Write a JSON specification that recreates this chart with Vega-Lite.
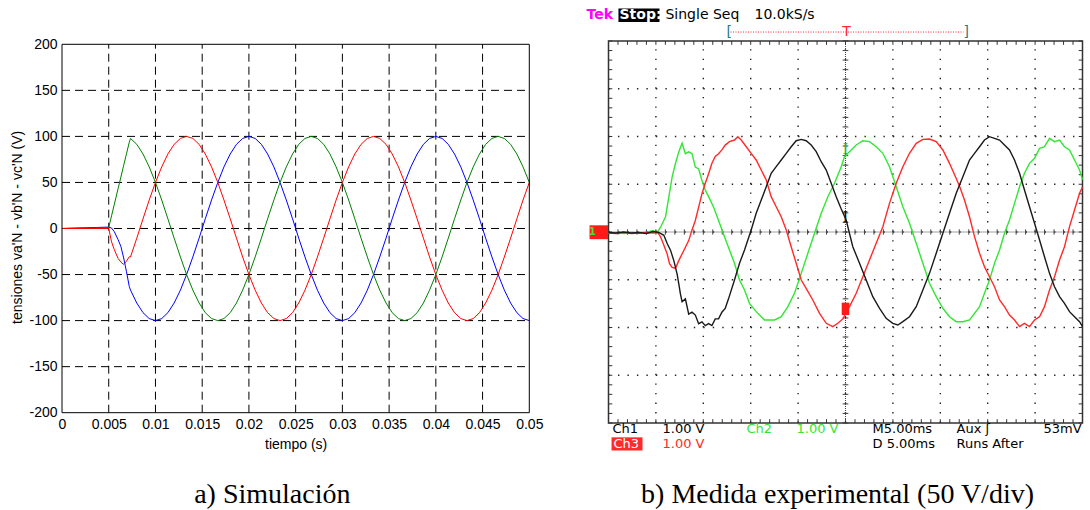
{
  "$schema": "https://vega.github.io/schema/vega-lite/v6.json",
  "padding": {"left": 10, "top": 8, "right": 0, "bottom": 0},
  "spacing": 43.5,
  "background": "white",
  "config": {"view": {"stroke": null}},
  "datasets": {
    "simGridT": [{"t":0.005},{"t":0.01},{"t":0.015},{"t":0.02},{"t":0.025},{"t":0.03},{"t":0.035},{"t":0.04},{"t":0.045}],
    "simGridV": [{"v":-150},{"v":-100},{"v":-50},{"v":0},{"v":50},{"v":100},{"v":150}],
    "minorT": [{"t":0},{"t":0.001},{"t":0.002},{"t":0.003},{"t":0.004},{"t":0.005},{"t":0.006},{"t":0.007},{"t":0.008},{"t":0.009},{"t":0.01},{"t":0.011},{"t":0.012},{"t":0.013},{"t":0.014},{"t":0.015},{"t":0.016},{"t":0.017},{"t":0.018},{"t":0.019},{"t":0.02},{"t":0.021},{"t":0.022},{"t":0.023},{"t":0.024},{"t":0.025},{"t":0.026},{"t":0.027},{"t":0.028},{"t":0.029},{"t":0.03},{"t":0.031},{"t":0.032},{"t":0.033},{"t":0.034},{"t":0.035},{"t":0.036},{"t":0.037},{"t":0.038},{"t":0.039},{"t":0.04},{"t":0.041},{"t":0.042},{"t":0.043},{"t":0.044},{"t":0.045},{"t":0.046},{"t":0.047},{"t":0.048},{"t":0.049},{"t":0.05}],
    "minorV": [{"v":-200},{"v":-190},{"v":-180},{"v":-170},{"v":-160},{"v":-150},{"v":-140},{"v":-130},{"v":-120},{"v":-110},{"v":-100},{"v":-90},{"v":-80},{"v":-70},{"v":-60},{"v":-50},{"v":-40},{"v":-30},{"v":-20},{"v":-10},{"v":0},{"v":10},{"v":20},{"v":30},{"v":40},{"v":50},{"v":60},{"v":70},{"v":80},{"v":90},{"v":100},{"v":110},{"v":120},{"v":130},{"v":140},{"v":150},{"v":160},{"v":170},{"v":180},{"v":190},{"v":200}],
    "sim": [
      {"t":0,"va":0,"vb":0,"vc":0},
      {"t":0.005,"va":1.5,"vb":1,"vc":0},
      {"t":0.0053,"va":0.5,"vb":13.7,"vc":-14.5},
      {"t":0.0056,"va":-3.5,"vb":26.3,"vc":-23},
      {"t":0.006,"va":-12,"vb":43.2,"vc":-32.5},
      {"t":0.0063,"va":-19.5,"vb":55.8,"vc":-36.5},
      {"t":0.0066,"va":-32,"vb":68.5,"vc":-39},
      {"t":0.0069,"va":-47,"vb":81.1,"vc":-35.5},
      {"t":0.0072,"va":-63,"vb":93.8,"vc":-30.6},
      {"t":0.00733,"va":-66.9,"vb":97.8,"vc":-30.9},
      {"t":0.008,"va":-80.9,"vb":91.4,"vc":-10.5},
      {"t":0.00867,"va":-91.4,"vb":80.9,"vc":10.5},
      {"t":0.00933,"va":-97.8,"vb":66.9,"vc":30.9},
      {"t":0.01,"va":-100,"vb":50,"vc":50},
      {"t":0.01067,"va":-97.8,"vb":30.9,"vc":66.9},
      {"t":0.01133,"va":-91.4,"vb":10.5,"vc":80.9},
      {"t":0.012,"va":-80.9,"vb":-10.5,"vc":91.4},
      {"t":0.01267,"va":-66.9,"vb":-30.9,"vc":97.8},
      {"t":0.01333,"va":-50,"vb":-50,"vc":100},
      {"t":0.014,"va":-30.9,"vb":-66.9,"vc":97.8},
      {"t":0.01467,"va":-10.5,"vb":-80.9,"vc":91.4},
      {"t":0.01533,"va":10.5,"vb":-91.4,"vc":80.9},
      {"t":0.016,"va":30.9,"vb":-97.8,"vc":66.9},
      {"t":0.01667,"va":50,"vb":-100,"vc":50},
      {"t":0.01733,"va":66.9,"vb":-97.8,"vc":30.9},
      {"t":0.018,"va":80.9,"vb":-91.4,"vc":10.5},
      {"t":0.01867,"va":91.4,"vb":-80.9,"vc":-10.5},
      {"t":0.01933,"va":97.8,"vb":-66.9,"vc":-30.9},
      {"t":0.02,"va":100,"vb":-50,"vc":-50},
      {"t":0.02067,"va":97.8,"vb":-30.9,"vc":-66.9},
      {"t":0.02133,"va":91.4,"vb":-10.5,"vc":-80.9},
      {"t":0.022,"va":80.9,"vb":10.5,"vc":-91.4},
      {"t":0.02267,"va":66.9,"vb":30.9,"vc":-97.8},
      {"t":0.02333,"va":50,"vb":50,"vc":-100},
      {"t":0.024,"va":30.9,"vb":66.9,"vc":-97.8},
      {"t":0.02467,"va":10.5,"vb":80.9,"vc":-91.4},
      {"t":0.02533,"va":-10.5,"vb":91.4,"vc":-80.9},
      {"t":0.026,"va":-30.9,"vb":97.8,"vc":-66.9},
      {"t":0.02667,"va":-50,"vb":100,"vc":-50},
      {"t":0.02733,"va":-66.9,"vb":97.8,"vc":-30.9},
      {"t":0.028,"va":-80.9,"vb":91.4,"vc":-10.5},
      {"t":0.02867,"va":-91.4,"vb":80.9,"vc":10.5},
      {"t":0.02933,"va":-97.8,"vb":66.9,"vc":30.9},
      {"t":0.03,"va":-100,"vb":50,"vc":50},
      {"t":0.03067,"va":-97.8,"vb":30.9,"vc":66.9},
      {"t":0.03133,"va":-91.4,"vb":10.5,"vc":80.9},
      {"t":0.032,"va":-80.9,"vb":-10.5,"vc":91.4},
      {"t":0.03267,"va":-66.9,"vb":-30.9,"vc":97.8},
      {"t":0.03333,"va":-50,"vb":-50,"vc":100},
      {"t":0.034,"va":-30.9,"vb":-66.9,"vc":97.8},
      {"t":0.03467,"va":-10.5,"vb":-80.9,"vc":91.4},
      {"t":0.03533,"va":10.5,"vb":-91.4,"vc":80.9},
      {"t":0.036,"va":30.9,"vb":-97.8,"vc":66.9},
      {"t":0.03667,"va":50,"vb":-100,"vc":50},
      {"t":0.03733,"va":66.9,"vb":-97.8,"vc":30.9},
      {"t":0.038,"va":80.9,"vb":-91.4,"vc":10.5},
      {"t":0.03867,"va":91.4,"vb":-80.9,"vc":-10.5},
      {"t":0.03933,"va":97.8,"vb":-66.9,"vc":-30.9},
      {"t":0.04,"va":100,"vb":-50,"vc":-50},
      {"t":0.04067,"va":97.8,"vb":-30.9,"vc":-66.9},
      {"t":0.04133,"va":91.4,"vb":-10.5,"vc":-80.9},
      {"t":0.042,"va":80.9,"vb":10.5,"vc":-91.4},
      {"t":0.04267,"va":66.9,"vb":30.9,"vc":-97.8},
      {"t":0.04333,"va":50,"vb":50,"vc":-100},
      {"t":0.044,"va":30.9,"vb":66.9,"vc":-97.8},
      {"t":0.04467,"va":10.5,"vb":80.9,"vc":-91.4},
      {"t":0.04533,"va":-10.5,"vb":91.4,"vc":-80.9},
      {"t":0.046,"va":-30.9,"vb":97.8,"vc":-66.9},
      {"t":0.04667,"va":-50,"vb":100,"vc":-50},
      {"t":0.04733,"va":-66.9,"vb":97.8,"vc":-30.9},
      {"t":0.048,"va":-80.9,"vb":91.4,"vc":-10.5},
      {"t":0.04867,"va":-91.4,"vb":80.9,"vc":10.5},
      {"t":0.04933,"va":-97.8,"vb":66.9,"vc":30.9},
      {"t":0.05,"va":-100,"vb":50,"vc":50}
    ],
    "ch1": [
      {"t":0,"v":-0.5},{"t":0.0008,"v":-1},{"t":0.0016,"v":0},{"t":0.0024,"v":-1},{"t":0.0032,"v":-0.5},{"t":0.004,"v":-1.5},{"t":0.0047,"v":0.5},{"t":0.0053,"v":-0.5},
      {"t":0.00584,"v":-3.5},{"t":0.00619,"v":-12},{"t":0.00654,"v":-19},{"t":0.00689,"v":-30},{"t":0.00724,"v":-44},{"t":0.00741,"v":-54},{"t":0.00759,"v":-65},{"t":0.00776,"v":-73},{"t":0.00811,"v":-70},{"t":0.00846,"v":-86},{"t":0.00881,"v":-84},{"t":0.00916,"v":-87},{"t":0.00951,"v":-96},{"t":0.00986,"v":-94},{"t":0.01021,"v":-98},{"t":0.01056,"v":-96},{"t":0.01091,"v":-98},{"t":0.01126,"v":-91},{"t":0.01161,"v":-91},{"t":0.01196,"v":-84},{"t":0.01231,"v":-80},{"t":0.01266,"v":-70},
      {"t":0.01329,"v":-50.3},{"t":0.01382,"v":-32.8},{"t":0.01435,"v":-18.8},{"t":0.01505,"v":2.1},{"t":0.01558,"v":19.6},{"t":0.01611,"v":33.5},{"t":0.01664,"v":47.4},{"t":0.01716,"v":61.5},{"t":0.01769,"v":68.4},{"t":0.01822,"v":75.4},{"t":0.01875,"v":82.4},{"t":0.01927,"v":89.3},{"t":0.0198,"v":95.6},{"t":0.02033,"v":97},{"t":0.02085,"v":95.6},{"t":0.02138,"v":91.1},{"t":0.02191,"v":84.1},{"t":0.02244,"v":73.6},{"t":0.02297,"v":64.9},{"t":0.02349,"v":51},{"t":0.02402,"v":37},{"t":0.02455,"v":24},{"t":0.02507,"v":12.6},
      {"t":0.02577,"v":-15.4},{"t":0.02648,"v":-32.8},{"t":0.02718,"v":-50.3},{"t":0.02788,"v":-67.7},{"t":0.02859,"v":-79.9},{"t":0.02929,"v":-90.4},{"t":0.02999,"v":-95.6},{"t":0.03052,"v":-97.4},{"t":0.03105,"v":-93.9},{"t":0.03175,"v":-88.7},{"t":0.03246,"v":-78.2},{"t":0.03316,"v":-60.7},{"t":0.03386,"v":-43.3},{"t":0.03457,"v":-22.3},{"t":0.03527,"v":-1.4},{"t":0.03597,"v":19.6},{"t":0.03668,"v":40.5},{"t":0.03738,"v":57.9},{"t":0.03808,"v":75.4},{"t":0.03861,"v":82.4},{"t":0.03914,"v":89.3},{"t":0.03966,"v":96.3},{"t":0.04019,"v":99.8},{"t":0.04072,"v":98.1},{"t":0.04125,"v":96.3},{"t":0.04177,"v":91.1},{"t":0.0423,"v":85.9},{"t":0.04283,"v":75.4},{"t":0.04336,"v":61.5},{"t":0.04388,"v":44},{"t":0.04441,"v":26.5},{"t":0.04494,"v":9.1},{"t":0.04547,"v":-8.4},{"t":0.04599,"v":-25.9},{"t":0.04652,"v":-43.3},{"t":0.04705,"v":-57.3},{"t":0.04758,"v":-67.7},{"t":0.0481,"v":-74.7},{"t":0.04863,"v":-83.4},{"t":0.04916,"v":-88.7},{"t":0.04969,"v":-93.9},{"t":0.05,"v":-99}
    ],
    "ch2": [
      {"t":0,"v":-1},{"t":0.0008,"v":-0.5},{"t":0.0016,"v":-1.5},{"t":0.0024,"v":-0.5},{"t":0.0032,"v":-1},{"t":0.004,"v":-0.5},{"t":0.0047,"v":1.5},{"t":0.0051,"v":-1},
      {"t":0.00549,"v":5},{"t":0.00602,"v":16},{"t":0.00637,"v":37},{"t":0.00672,"v":58},{"t":0.00707,"v":72},{"t":0.00742,"v":84},{"t":0.00776,"v":93},{"t":0.00811,"v":82},{"t":0.00846,"v":84},{"t":0.00881,"v":82},{"t":0.00916,"v":68},{"t":0.00951,"v":66},{"t":0.00986,"v":54},{"t":0.01021,"v":44},{"t":0.01056,"v":37},{"t":0.01109,"v":26},{"t":0.01161,"v":12},{"t":0.01213,"v":-2},
      {"t":0.01276,"v":-18.8},{"t":0.01329,"v":-32.8},{"t":0.01382,"v":-50.3},{"t":0.01435,"v":-60.7},{"t":0.01487,"v":-74.7},{"t":0.01558,"v":-83.4},{"t":0.01646,"v":-92.1},{"t":0.01751,"v":-92.1},{"t":0.01822,"v":-88.6},{"t":0.01892,"v":-78.2},{"t":0.01962,"v":-64.2},{"t":0.02033,"v":-43.3},{"t":0.02103,"v":-22.3},{"t":0.02173,"v":-1.4},{"t":0.02244,"v":19.6},{"t":0.02314,"v":37},{"t":0.02384,"v":51},{"t":0.02455,"v":68.4},{"t":0.0249,"v":78.9},
      {"t":0.02542,"v":84.1},{"t":0.02613,"v":91.1},{"t":0.02683,"v":95.6},{"t":0.02753,"v":94.6},{"t":0.02824,"v":89.3},{"t":0.02894,"v":82.4},{"t":0.02964,"v":68.4},{"t":0.03035,"v":47.4},{"t":0.03105,"v":26.5},{"t":0.03175,"v":9.1},{"t":0.03246,"v":-11.8},{"t":0.03316,"v":-32.8},{"t":0.03386,"v":-53.7},{"t":0.03457,"v":-67.7},{"t":0.03527,"v":-79.9},{"t":0.03597,"v":-88.7},{"t":0.03668,"v":-93.9},{"t":0.03738,"v":-93.9},{"t":0.03808,"v":-92.1},
      {"t":0.03861,"v":-85.2},{"t":0.03914,"v":-78.2},{"t":0.03966,"v":-64.2},{"t":0.04019,"v":-50.3},{"t":0.04072,"v":-32.8},{"t":0.04125,"v":-18.8},{"t":0.04177,"v":-1.4},{"t":0.0423,"v":12.6},{"t":0.04283,"v":30},{"t":0.04336,"v":47.4},{"t":0.04388,"v":61.5},{"t":0.04441,"v":71.9},{"t":0.04494,"v":77.2},{"t":0.04547,"v":87.6},{"t":0.04599,"v":89.3},{"t":0.04652,"v":98.1},{"t":0.04705,"v":94.6},{"t":0.04758,"v":96.3},{"t":0.0481,"v":89.3},{"t":0.04863,"v":85.9},{"t":0.04916,"v":75.4},{"t":0.04969,"v":64.9},{"t":0.05,"v":55}
    ],
    "ch3": [
      {"t":0,"v":-1},{"t":0.0008,"v":-1.5},{"t":0.0016,"v":-0.5},{"t":0.0024,"v":-1.5},{"t":0.0032,"v":-1},{"t":0.004,"v":-0.5},{"t":0.0047,"v":-1},{"t":0.0052,"v":-0.5},
      {"t":0.00549,"v":-5},{"t":0.00584,"v":-14},{"t":0.00619,"v":-23},{"t":0.00643,"v":-33},{"t":0.00671,"v":-37},{"t":0.00706,"v":-38},{"t":0.00741,"v":-30},{"t":0.00776,"v":-23},{"t":0.00811,"v":-16},{"t":0.00846,"v":-9},{"t":0.00881,"v":2},{"t":0.00916,"v":12},{"t":0.00951,"v":26},{"t":0.00986,"v":40},{"t":0.01021,"v":51},{"t":0.01056,"v":61},{"t":0.01091,"v":72},{"t":0.01126,"v":79},{"t":0.01161,"v":82},{"t":0.01196,"v":86},{"t":0.01231,"v":91},
      {"t":0.01276,"v":94.6},{"t":0.01329,"v":96.3},{"t":0.01364,"v":99.8},{"t":0.014,"v":96.3},{"t":0.01453,"v":89.3},{"t":0.01505,"v":82.4},{"t":0.01558,"v":75.4},{"t":0.01611,"v":64.9},{"t":0.01664,"v":54.4},{"t":0.01716,"v":37},{"t":0.01769,"v":26.5},{"t":0.01822,"v":16},{"t":0.01875,"v":2.1},{"t":0.01927,"v":-15.4},{"t":0.0198,"v":-32.8},{"t":0.02033,"v":-50.3},{"t":0.02085,"v":-59},{"t":0.02155,"v":-71.2},{"t":0.02226,"v":-85.2},{"t":0.02297,"v":-95.6},{"t":0.02366,"v":-99.1},{"t":0.02419,"v":-95.6},{"t":0.02472,"v":-91},
      {"t":0.02542,"v":-78.2},{"t":0.02613,"v":-64.2},{"t":0.02683,"v":-46.8},{"t":0.02753,"v":-29.3},{"t":0.02824,"v":-11.8},{"t":0.02894,"v":5.6},{"t":0.02964,"v":30},{"t":0.03035,"v":51},{"t":0.03105,"v":68.4},{"t":0.03175,"v":82.4},{"t":0.03246,"v":92.9},{"t":0.03316,"v":97},{"t":0.03386,"v":97.4},{"t":0.03457,"v":94.6},{"t":0.03527,"v":85.9},{"t":0.03597,"v":71.9},{"t":0.03668,"v":56},{"t":0.03703,"v":48},{"t":0.03755,"v":33.5},{"t":0.03808,"v":16},
      {"t":0.03861,"v":-4.9},{"t":0.03914,"v":-22.3},{"t":0.03966,"v":-36.3},{"t":0.04019,"v":-46.8},{"t":0.04072,"v":-57.3},{"t":0.04125,"v":-71.2},{"t":0.04177,"v":-78.2},{"t":0.0423,"v":-86.9},{"t":0.04283,"v":-92.1},{"t":0.04336,"v":-99.1},{"t":0.04388,"v":-95.6},{"t":0.04441,"v":-99.1},{"t":0.04494,"v":-92.1},{"t":0.04547,"v":-88.7},{"t":0.04599,"v":-78.2},{"t":0.04652,"v":-60.7},{"t":0.04705,"v":-46.8},{"t":0.04758,"v":-29.3},{"t":0.0481,"v":-15.4},{"t":0.04863,"v":5.6},{"t":0.04916,"v":23},{"t":0.04969,"v":40.5},{"t":0.05,"v":47}
    ]
  },
  "hconcat": [
    {
      "width": 467.3,
      "height": 371.7,
      "data": {"values": [{}]},
      "layer": [
        {
          "data": {"name": "simGridT"},
          "mark": {"type": "rule", "color": "#000000", "strokeWidth": 1, "strokeDash": [8, 5]},
          "encoding": {
            "x": {
              "field": "t", "type": "quantitative",
              "scale": {"domain": [0, 0.05], "nice": false, "zero": false},
              "axis": {
                "disable": false,
                "orient": "bottom", "title": "tiempo (s)",
                "values": [0, 0.005, 0.01, 0.015, 0.02, 0.025, 0.03, 0.035, 0.04, 0.045, 0.05],
                "labelExpr": "toString(datum.value)",
                "domain": false, "ticks": false, "grid": false,
                "labelFont": "Liberation Sans", "labelFontSize": 14, "labelColor": "#000000", "labelPadding": 5,
                "labelFlush": false, "labelOverlap": false, "labelBound": false,
                "titleFont": "Liberation Sans", "titleFontSize": 14, "titleFontWeight": "normal", "titleColor": "#000000", "titlePadding": 6
              }
            },
            "y": {
              "datum": -200, "type": "quantitative",
              "scale": {"domain": [-200, 203.58], "nice": false, "zero": false},
              "axis": {
                "disable": false,
                "orient": "left", "title": "tensiones va'N - vb'N - vc'N (V)",
                "values": [-200, -150, -100, -50, 0, 50, 100, 150, 200],
                "labelExpr": "toString(datum.value)",
                "domain": false, "ticks": false, "grid": false,
                "labelFont": "Liberation Sans", "labelFontSize": 14, "labelColor": "#000000", "labelPadding": 5,
                "labelFlush": false, "labelOverlap": false, "labelBound": false,
                "titleFont": "Liberation Sans", "titleFontSize": 14, "titleFontWeight": "normal", "titleColor": "#000000", "titlePadding": 4
              }
            },
            "y2": {"datum": 200}
          }
        },
        {
          "data": {"name": "simGridV"},
          "mark": {"type": "rule", "color": "#000000", "strokeWidth": 1, "strokeDash": [8, 5]},
          "encoding": {
            "y": {"field": "v", "type": "quantitative"},
            "x": {"datum": 0, "type": "quantitative"},
            "x2": {"datum": 0.05}
          }
        },
        {
          "data": {"name": "sim"},
          "transform": [{"fold": ["va", "vb", "vc"], "as": ["fase", "tension"]}],
          "mark": {"type": "line", "strokeWidth": 1},
          "encoding": {
            "x": {"field": "t", "type": "quantitative"},
            "y": {"field": "tension", "type": "quantitative"},
            "color": {"field": "fase", "type": "nominal", "scale": {"domain": ["va", "vb", "vc"], "range": ["#0000ff", "#008000", "#ff0000"]}, "legend": null}
          }
        },
        {
          "mark": {"type": "rect", "filled": false, "stroke": "#000000", "strokeWidth": 1},
          "encoding": {
            "x": {"datum": 0, "type": "quantitative"},
            "x2": {"datum": 0.05},
            "y": {"datum": -200, "type": "quantitative"},
            "y2": {"datum": 200}
          }
        },
        {
          "mark": {"type": "text", "text": "a) Simulación", "font": "Liberation Serif", "fontSize": 28, "color": "#000000", "align": "center", "baseline": "middle"},
          "encoding": {
            "x": {"datum": 0.0225, "type": "quantitative"},
            "y": {"datum": -289, "type": "quantitative"}
          }
        }
      ]
    },
    {
      "width": 474,
      "height": 382,
      "data": {"values": [{}]},
      "layer": [
        {
          "data": {"name": "minorT"},
          "mark": {"type": "rule", "color": "#333333", "strokeWidth": 1},
          "encoding": {
            "x": {"field": "t", "type": "quantitative", "scale": {"domain": [0, 0.05], "nice": false, "zero": false}, "axis": null},
            "y": {"datum": 200, "type": "quantitative", "scale": {"domain": [-200, 200], "nice": false, "zero": false}, "axis": null},
            "y2": {"datum": 196}
          }
        },
        {
          "data": {"name": "minorT"},
          "mark": {"type": "rule", "color": "#333333", "strokeWidth": 1},
          "encoding": {
            "x": {"field": "t", "type": "quantitative", "axis": null},
            "y": {"datum": -200, "type": "quantitative", "axis": null},
            "y2": {"datum": -196}
          }
        },
        {
          "data": {"name": "minorV"},
          "mark": {"type": "rule", "color": "#333333", "strokeWidth": 1},
          "encoding": {
            "y": {"field": "v", "type": "quantitative", "axis": null},
            "x": {"datum": 0, "type": "quantitative", "axis": null},
            "x2": {"datum": 0.0004}
          }
        },
        {
          "data": {"name": "minorV"},
          "mark": {"type": "rule", "color": "#333333", "strokeWidth": 1},
          "encoding": {
            "y": {"field": "v", "type": "quantitative", "axis": null},
            "x": {"datum": 0.05, "type": "quantitative", "axis": null},
            "x2": {"datum": 0.0496}
          }
        },
        {
          "data": {"name": "simGridT"},
          "mark": {"type": "rule", "color": "#222222", "strokeWidth": 1.4, "strokeDash": [1.4, 8.15]},
          "encoding": {
            "x": {"field": "t", "type": "quantitative", "axis": null},
            "y": {"datum": -200, "type": "quantitative", "axis": null},
            "y2": {"datum": 200}
          }
        },
        {
          "data": {"name": "simGridV"},
          "mark": {"type": "rule", "color": "#222222", "strokeWidth": 1.4, "strokeDash": [1.4, 8.08]},
          "encoding": {
            "y": {"field": "v", "type": "quantitative", "axis": null},
            "x": {"datum": 0, "type": "quantitative", "axis": null},
            "x2": {"datum": 0.05}
          }
        },
        {
          "mark": {"type": "rule", "color": "#444444", "strokeWidth": 1, "strokeDash": [1, 1]},
          "encoding": {
            "x": {"datum": 0.025, "type": "quantitative", "axis": null},
            "y": {"datum": -200, "type": "quantitative", "axis": null},
            "y2": {"datum": 200}
          }
        },
        {
          "mark": {"type": "rule", "color": "#444444", "strokeWidth": 1, "strokeDash": [1, 1]},
          "encoding": {
            "y": {"datum": 0, "type": "quantitative", "axis": null},
            "x": {"datum": 0, "type": "quantitative", "axis": null},
            "x2": {"datum": 0.05}
          }
        },
        {
          "data": {"name": "minorT"},
          "mark": {"type": "rule", "color": "#444444", "strokeWidth": 1},
          "encoding": {
            "x": {"field": "t", "type": "quantitative", "axis": null},
            "y": {"datum": -2.8, "type": "quantitative", "axis": null},
            "y2": {"datum": 2.8}
          }
        },
        {
          "data": {"name": "minorV"},
          "mark": {"type": "rule", "color": "#444444", "strokeWidth": 1},
          "encoding": {
            "y": {"field": "v", "type": "quantitative", "axis": null},
            "x": {"datum": 0.0247, "type": "quantitative", "axis": null},
            "x2": {"datum": 0.0253}
          }
        },
        {
          "mark": {"type": "rect", "filled": false, "stroke": "#333333", "strokeWidth": 1.5},
          "encoding": {
            "x": {"datum": 0, "type": "quantitative", "axis": null},
            "x2": {"datum": 0.05},
            "y": {"datum": -200, "type": "quantitative", "axis": null},
            "y2": {"datum": 200}
          }
        },
        {
          "data": {"name": "ch2"},
          "mark": {"type": "line", "color": "#33e633", "strokeWidth": 1.4},
          "encoding": {
            "x": {"field": "t", "type": "quantitative", "axis": null},
            "y": {"field": "v", "type": "quantitative", "axis": null}
          }
        },
        {
          "data": {"name": "ch3"},
          "mark": {"type": "line", "color": "#ff2a2a", "strokeWidth": 1.4},
          "encoding": {
            "x": {"field": "t", "type": "quantitative", "axis": null},
            "y": {"field": "v", "type": "quantitative", "axis": null}
          }
        },
        {
          "data": {"name": "ch1"},
          "mark": {"type": "line", "color": "#1a1a1a", "strokeWidth": 1.4},
          "encoding": {
            "x": {"field": "t", "type": "quantitative", "axis": null},
            "y": {"field": "v", "type": "quantitative", "axis": null}
          }
        },
        {
          "mark": {"type": "rect", "color": "#ff1a1a"},
          "encoding": {
            "x": {"datum": -0.002, "type": "quantitative", "axis": null},
            "x2": {"datum": -0.00005},
            "y": {"datum": 7, "type": "quantitative", "axis": null},
            "y2": {"datum": -7.5}
          }
        },
        {
          "mark": {"type": "text", "text": "1", "font": "DejaVu Sans", "fontSize": 10, "fontWeight": "bold", "color": "#33e633", "align": "center", "baseline": "middle"},
          "encoding": {
            "x": {"datum": -0.0017, "type": "quantitative", "axis": null},
            "y": {"datum": 0, "type": "quantitative", "axis": null}
          }
        },
        {
          "mark": {"type": "rect", "color": "#ff1a1a"},
          "encoding": {
            "x": {"datum": 0.0246, "type": "quantitative", "axis": null},
            "x2": {"datum": 0.0254},
            "y": {"datum": -74, "type": "quantitative", "axis": null},
            "y2": {"datum": -87}
          }
        },
        {
          "mark": {"type": "text", "text": "I", "font": "Liberation Serif", "fontSize": 16, "color": "#22b822", "align": "center", "baseline": "middle"},
          "encoding": {
            "x": {"datum": 0.025, "type": "quantitative", "axis": null},
            "y": {"datum": 87, "type": "quantitative", "axis": null}
          }
        },
        {
          "mark": {"type": "text", "text": "I", "font": "Liberation Serif", "fontSize": 16, "color": "#111111", "align": "center", "baseline": "middle"},
          "encoding": {
            "x": {"datum": 0.025, "type": "quantitative", "axis": null},
            "y": {"datum": 16, "type": "quantitative", "axis": null}
          }
        },
        {
          "mark": {"type": "text", "text": "Tek", "font": "DejaVu Sans", "fontSize": 14, "fontWeight": "bold", "color": "#ff00ff", "align": "left", "baseline": "middle"},
          "encoding": {
            "x": {"datum": -0.00232, "type": "quantitative", "axis": null},
            "y": {"datum": 227.2, "type": "quantitative", "axis": null}
          }
        },
        {
          "mark": {"type": "rect", "color": "#000000"},
          "encoding": {
            "x": {"datum": 0.00105, "type": "quantitative", "axis": null},
            "x2": {"datum": 0.00538},
            "y": {"datum": 234, "type": "quantitative", "axis": null},
            "y2": {"datum": 220}
          }
        },
        {
          "mark": {"type": "text", "text": "Stop:", "font": "DejaVu Sans", "fontSize": 14, "fontWeight": "bold", "color": "#ffffff", "align": "left", "baseline": "middle"},
          "encoding": {
            "x": {"datum": 0.00116, "type": "quantitative", "axis": null},
            "y": {"datum": 227.2, "type": "quantitative", "axis": null}
          }
        },
        {
          "mark": {"type": "text", "text": "Single Seq", "font": "DejaVu Sans", "fontSize": 14, "color": "#000000", "align": "left", "baseline": "middle"},
          "encoding": {
            "x": {"datum": 0.00601, "type": "quantitative", "axis": null},
            "y": {"datum": 227.2, "type": "quantitative", "axis": null}
          }
        },
        {
          "mark": {"type": "text", "text": "10.0kS/s", "font": "DejaVu Sans", "fontSize": 14, "color": "#000000", "align": "left", "baseline": "middle"},
          "encoding": {
            "x": {"datum": 0.0154, "type": "quantitative", "axis": null},
            "y": {"datum": 227.2, "type": "quantitative", "axis": null}
          }
        },
        {
          "mark": {"type": "rule", "color": "#ff2a2a", "strokeWidth": 1, "strokeDash": [1, 1.5]},
          "encoding": {
            "x": {"datum": 0.01287, "type": "quantitative", "axis": null},
            "x2": {"datum": 0.03745},
            "y": {"datum": 209.4, "type": "quantitative", "axis": null}
          }
        },
        {
          "mark": {"type": "text", "text": "[", "font": "DejaVu Sans", "fontSize": 14, "color": "#2a7a7a", "align": "left", "baseline": "middle"},
          "encoding": {
            "x": {"datum": 0.01245, "type": "quantitative", "axis": null},
            "y": {"datum": 209.4, "type": "quantitative", "axis": null}
          }
        },
        {
          "mark": {"type": "text", "text": "]", "font": "DejaVu Sans", "fontSize": 14, "color": "#2a7a7a", "align": "left", "baseline": "middle"},
          "encoding": {
            "x": {"datum": 0.03745, "type": "quantitative", "axis": null},
            "y": {"datum": 209.4, "type": "quantitative", "axis": null}
          }
        },
        {
          "mark": {"type": "text", "text": "T", "font": "DejaVu Sans", "fontSize": 14, "color": "#ff2a2a", "align": "center", "baseline": "middle"},
          "encoding": {
            "x": {"datum": 0.0251, "type": "quantitative", "axis": null},
            "y": {"datum": 209.9, "type": "quantitative", "axis": null}
          }
        },
        {
          "mark": {"type": "text", "text": "Ch1", "font": "DejaVu Sans", "fontSize": 13, "color": "#000000", "align": "left", "baseline": "middle"},
          "encoding": {
            "x": {"datum": 0.00042, "type": "quantitative", "axis": null},
            "y": {"datum": -206.8, "type": "quantitative", "axis": null}
          }
        },
        {
          "mark": {"type": "text", "text": "1.00 V", "font": "DejaVu Sans", "fontSize": 13, "color": "#000000", "align": "left", "baseline": "middle"},
          "encoding": {
            "x": {"datum": 0.0057, "type": "quantitative", "axis": null},
            "y": {"datum": -206.8, "type": "quantitative", "axis": null}
          }
        },
        {
          "mark": {"type": "text", "text": "Ch2", "font": "DejaVu Sans", "fontSize": 13, "color": "#33e633", "align": "left", "baseline": "middle"},
          "encoding": {
            "x": {"datum": 0.01456, "type": "quantitative", "axis": null},
            "y": {"datum": -206.8, "type": "quantitative", "axis": null}
          }
        },
        {
          "mark": {"type": "text", "text": "1.00 V", "font": "DejaVu Sans", "fontSize": 13, "color": "#33e633", "align": "left", "baseline": "middle"},
          "encoding": {
            "x": {"datum": 0.01983, "type": "quantitative", "axis": null},
            "y": {"datum": -206.8, "type": "quantitative", "axis": null}
          }
        },
        {
          "mark": {"type": "text", "text": "M5.00ms", "font": "DejaVu Sans", "fontSize": 13, "color": "#000000", "align": "left", "baseline": "middle"},
          "encoding": {
            "x": {"datum": 0.02785, "type": "quantitative", "axis": null},
            "y": {"datum": -206.8, "type": "quantitative", "axis": null}
          }
        },
        {
          "mark": {"type": "text", "text": "Aux ʃ", "font": "DejaVu Sans", "fontSize": 13, "color": "#000000", "align": "left", "baseline": "middle"},
          "encoding": {
            "x": {"datum": 0.03671, "type": "quantitative", "axis": null},
            "y": {"datum": -206.8, "type": "quantitative", "axis": null}
          }
        },
        {
          "mark": {"type": "text", "text": "53mV", "font": "DejaVu Sans", "fontSize": 13, "color": "#000000", "align": "right", "baseline": "middle"},
          "encoding": {
            "x": {"datum": 0.0499, "type": "quantitative", "axis": null},
            "y": {"datum": -206.8, "type": "quantitative", "axis": null}
          }
        },
        {
          "mark": {"type": "rect", "color": "#ff2a2a"},
          "encoding": {
            "x": {"datum": 0.00032, "type": "quantitative", "axis": null},
            "x2": {"datum": 0.00359},
            "y": {"datum": -215, "type": "quantitative", "axis": null},
            "y2": {"datum": -228.8}
          }
        },
        {
          "mark": {"type": "text", "text": "Ch3", "font": "DejaVu Sans", "fontSize": 13, "color": "#ffffff", "align": "left", "baseline": "middle"},
          "encoding": {
            "x": {"datum": 0.00053, "type": "quantitative", "axis": null},
            "y": {"datum": -221.8, "type": "quantitative", "axis": null}
          }
        },
        {
          "mark": {"type": "text", "text": "1.00 V", "font": "DejaVu Sans", "fontSize": 13, "color": "#ff2a2a", "align": "left", "baseline": "middle"},
          "encoding": {
            "x": {"datum": 0.0057, "type": "quantitative", "axis": null},
            "y": {"datum": -221.8, "type": "quantitative", "axis": null}
          }
        },
        {
          "mark": {"type": "text", "text": "D 5.00ms", "font": "DejaVu Sans", "fontSize": 13, "color": "#000000", "align": "left", "baseline": "middle"},
          "encoding": {
            "x": {"datum": 0.02785, "type": "quantitative", "axis": null},
            "y": {"datum": -221.8, "type": "quantitative", "axis": null}
          }
        },
        {
          "mark": {"type": "text", "text": "Runs After", "font": "DejaVu Sans", "fontSize": 13, "color": "#000000", "align": "left", "baseline": "middle"},
          "encoding": {
            "x": {"datum": 0.03671, "type": "quantitative", "axis": null},
            "y": {"datum": -221.8, "type": "quantitative", "axis": null}
          }
        },
        {
          "mark": {"type": "text", "text": "b) Medida experimental (50 V/div)", "font": "Liberation Serif", "fontSize": 28, "color": "#000000", "align": "center", "baseline": "middle"},
          "encoding": {
            "x": {"datum": 0.02416, "type": "quantitative", "axis": null},
            "y": {"datum": -275.4, "type": "quantitative", "axis": null}
          }
        }
      ]
    }
  ]
}
